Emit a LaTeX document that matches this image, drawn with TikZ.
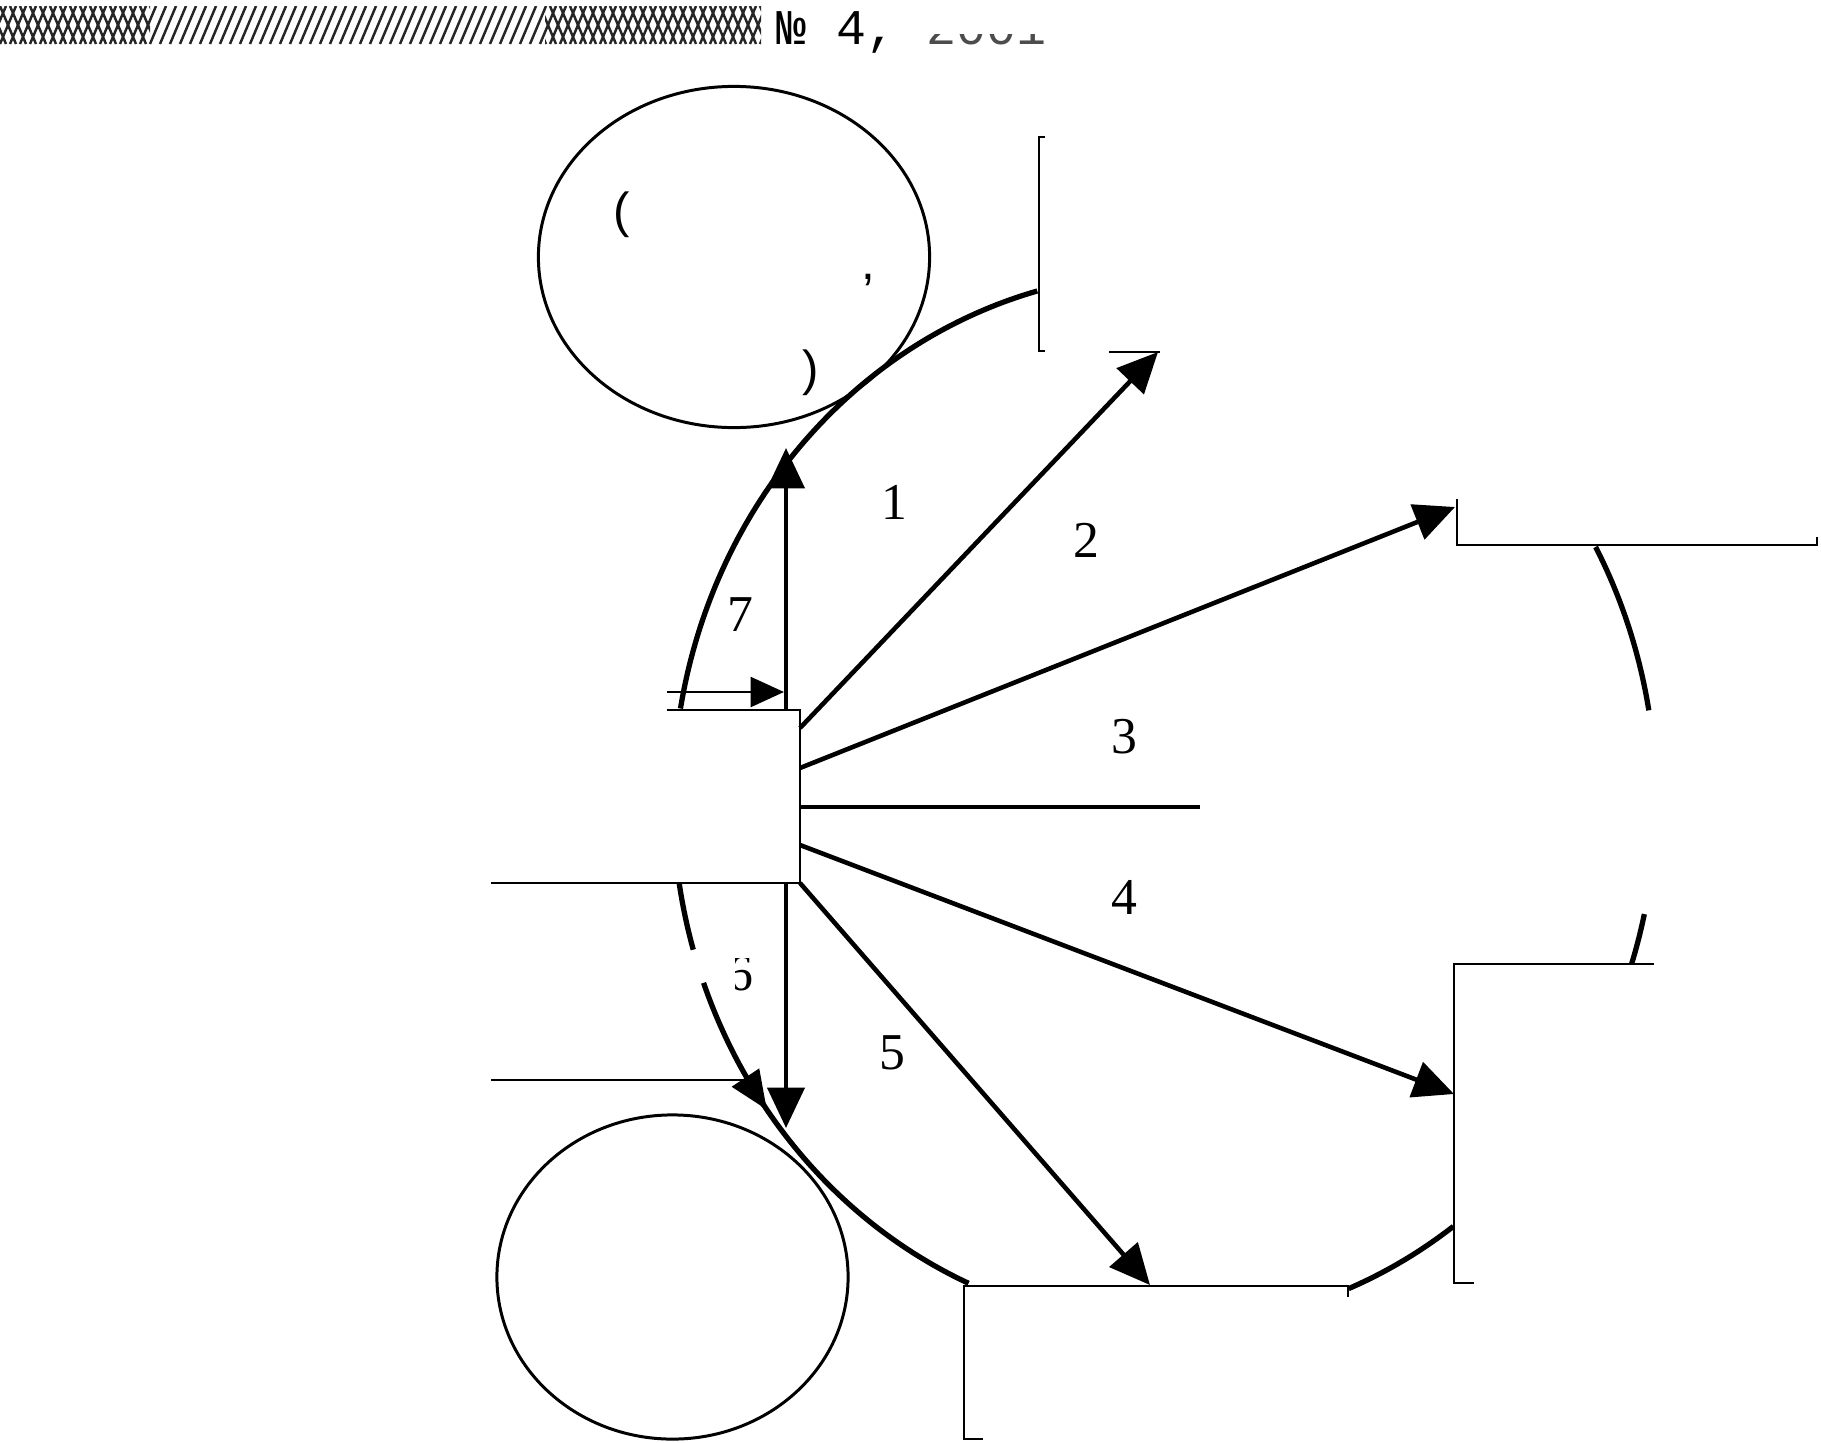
\documentclass[tikz,border=0pt]{standalone}
\usepackage{fontspec}
\setmainfont{Liberation Serif}
\newfontfamily\monofnt{Liberation Mono}
\newfontfamily\sansfnt{Liberation Sans}
\usetikzlibrary{arrows.meta,shapes.geometric}
\begin{document}
\begin{tikzpicture}[x=0.01cm,y=-0.01cm,
  thinline/.style={line width=0.8pt},
  arcline/.style={line width=1.5pt},
  arr/.style={line width=1.3pt,-{Triangle[length=11.5pt,width=10.5pt]}},
  arrsmall/.style={line width=0.8pt,-{Triangle[length=9.5pt,width=8.5pt]}},
  num/.style={font=\fontsize{14.7}{17}\selectfont, inner sep=0pt},
  frag/.style={font=\sansfnt\fontsize{14}{16}\selectfont, inner sep=0pt},
  oval/.style={draw, ellipse, line width=0.85pt, inner sep=0pt},
  hatch/.style={line width=0.7pt, black!85},
]
\useasboundingbox (0,0) rectangle (1821,1442);

% ---- header bar ----
\begin{scope}
  \clip (0,6) rectangle (150,44);
  \foreach \i in {-40,-30,...,160} {
    \draw[hatch] (\i,44) -- (\i+16,6);
    \draw[hatch] (\i,6) -- (\i+16,44);
  }
\end{scope}
\begin{scope}
  \clip (150,6) rectangle (545,44);
  \foreach \i in {130,140,...,550} {
    \draw[hatch] (\i,44) -- (\i+16,6);
  }
\end{scope}
\begin{scope}
  \clip (545,6) rectangle (761,44);
  \foreach \i in {520,530,...,770} {
    \draw[hatch] (\i,44) -- (\i+16,6);
    \draw[hatch] (\i,6) -- (\i+16,44);
  }
\end{scope}
\node[anchor=base west, inner sep=0pt, font=\monofnt\fontsize{14.2}{16}\selectfont] (hdr) at (776,44) {№ 4,};
\begin{scope}
  \clip (920,34) rectangle (1060,50);
  \node[anchor=base west, inner sep=0pt, font=\monofnt\fontsize{14.2}{16}\selectfont, text=black!70] (yr) at (926,44) {2001};
\end{scope}

% ---- ovals ----
\node[oval, minimum width=3.91cm, minimum height=3.41cm] (topc) at (734,257) {};
\node[oval, minimum width=3.51cm, minimum height=3.24cm] (botc) at (672.5,1277) {};
% visible remnants of the (erased) oval text
\node[frag] (fa) at (622,215) {(};
\node[frag] (fb) at (868,280) {,};
\node[frag] (fc) at (811,373) {)};

% ---- big arc (ellipse segments) ----
\def\EX{1164.5}\def\EY{800}\def\ERX{491.5}\def\ERY{527}
\draw[arcline] plot[domain=190:255, samples=80] ({\EX+\ERX*cos(\x)},{\EY+\ERY*sin(\x)});
\draw[arcline] plot[domain=163.5:171, samples=20] ({\EX+\ERX*cos(\x)},{\EY+\ERY*sin(\x)});
\draw[arcline,-{Triangle[length=11pt,width=9pt]}] plot[domain=159.7:144, samples=30] ({\EX+\ERX*cos(\x)},{\EY+\ERY*sin(\x)});
\draw[arcline] plot[domain=113.5:146, samples=50] ({\EX+\ERX*cos(\x)},{\EY+\ERY*sin(\x)});
\draw[arcline] plot[domain=54:68, samples=20] ({\EX+\ERX*cos(\x)},{\EY+\ERY*sin(\x)});
\draw[arcline] plot[domain=12.5:18.1, samples=10] ({\EX+\ERX*cos(\x)},{\EY+\ERY*sin(\x)});
\draw[arcline] plot[domain=-28.7:-9.8, samples=30] ({\EX+\ERX*cos(\x)},{\EY+\ERY*sin(\x)});

% ---- central box (partly erased) ----
\draw[thinline] (667,710) -- (800,710) -- (800,883) -- (491,883);
\draw[thinline] (491,1080) -- (745,1080);

% ---- top bracket box ----
\draw[thinline] (1045,137) -- (1039,137) -- (1039,351) -- (1045,351);
\draw[thinline] (1109,352) -- (1160,352);

% ---- top right box ----
\draw[thinline] (1457,499) -- (1457,545) -- (1817,545) -- (1817,537);

% ---- right box ----
\draw[thinline] (1654,964) -- (1454,964) -- (1454,1283) -- (1474,1283);

% ---- bottom box ----
\draw[thinline] (983,1439) -- (964,1439) -- (964,1286) -- (1348,1286) -- (1348,1297);

% ---- connector coordinates ----
\coordinate (s1) at (786,710);  \coordinate (t1) at (786,448);
\coordinate (s7) at (667,692);  \coordinate (t7) at (784,692);
\coordinate (s2) at (800,728);  \coordinate (t2) at (1158,352);
\coordinate (s3) at (800,768);  \coordinate (t3) at (1455,507);
\coordinate (s0) at (800,807);  \coordinate (t0) at (1200,807);
\coordinate (s4) at (800,845);  \coordinate (t4) at (1454,1094);
\coordinate (s5) at (800,883);  \coordinate (t5) at (1150,1285);
\coordinate (s6) at (786,883);  \coordinate (t6) at (786,1128);

\draw[arr] (s1) -- (t1);
\draw[arrsmall] (s7) -- (t7);
\draw[arr] (s2) -- (t2);
\draw[arr] (s3) -- (t3);
\draw[line width=1.3pt] (s0) -- (t0);
\draw[arr] (s4) -- (t4);
\draw[arr] (s5) -- (t5);
\draw[arr] (s6) -- (t6);

% ---- labels ----
\node[num] (l1) at (894,502) {1};
\node[num] (l2) at (1086,540) {2};
\node[num] (l3) at (1124,737) {3};
\node[num] (l4) at (1124,897) {4};
\node[num] (l5) at (892,1053) {5};
\node[num] (l7) at (740,615) {7};
\begin{scope}
  \clip (735,958) rectangle (760,995);
  \node[num] (l6) at (740,974) {6};
\end{scope}
\end{tikzpicture}
\end{document}
